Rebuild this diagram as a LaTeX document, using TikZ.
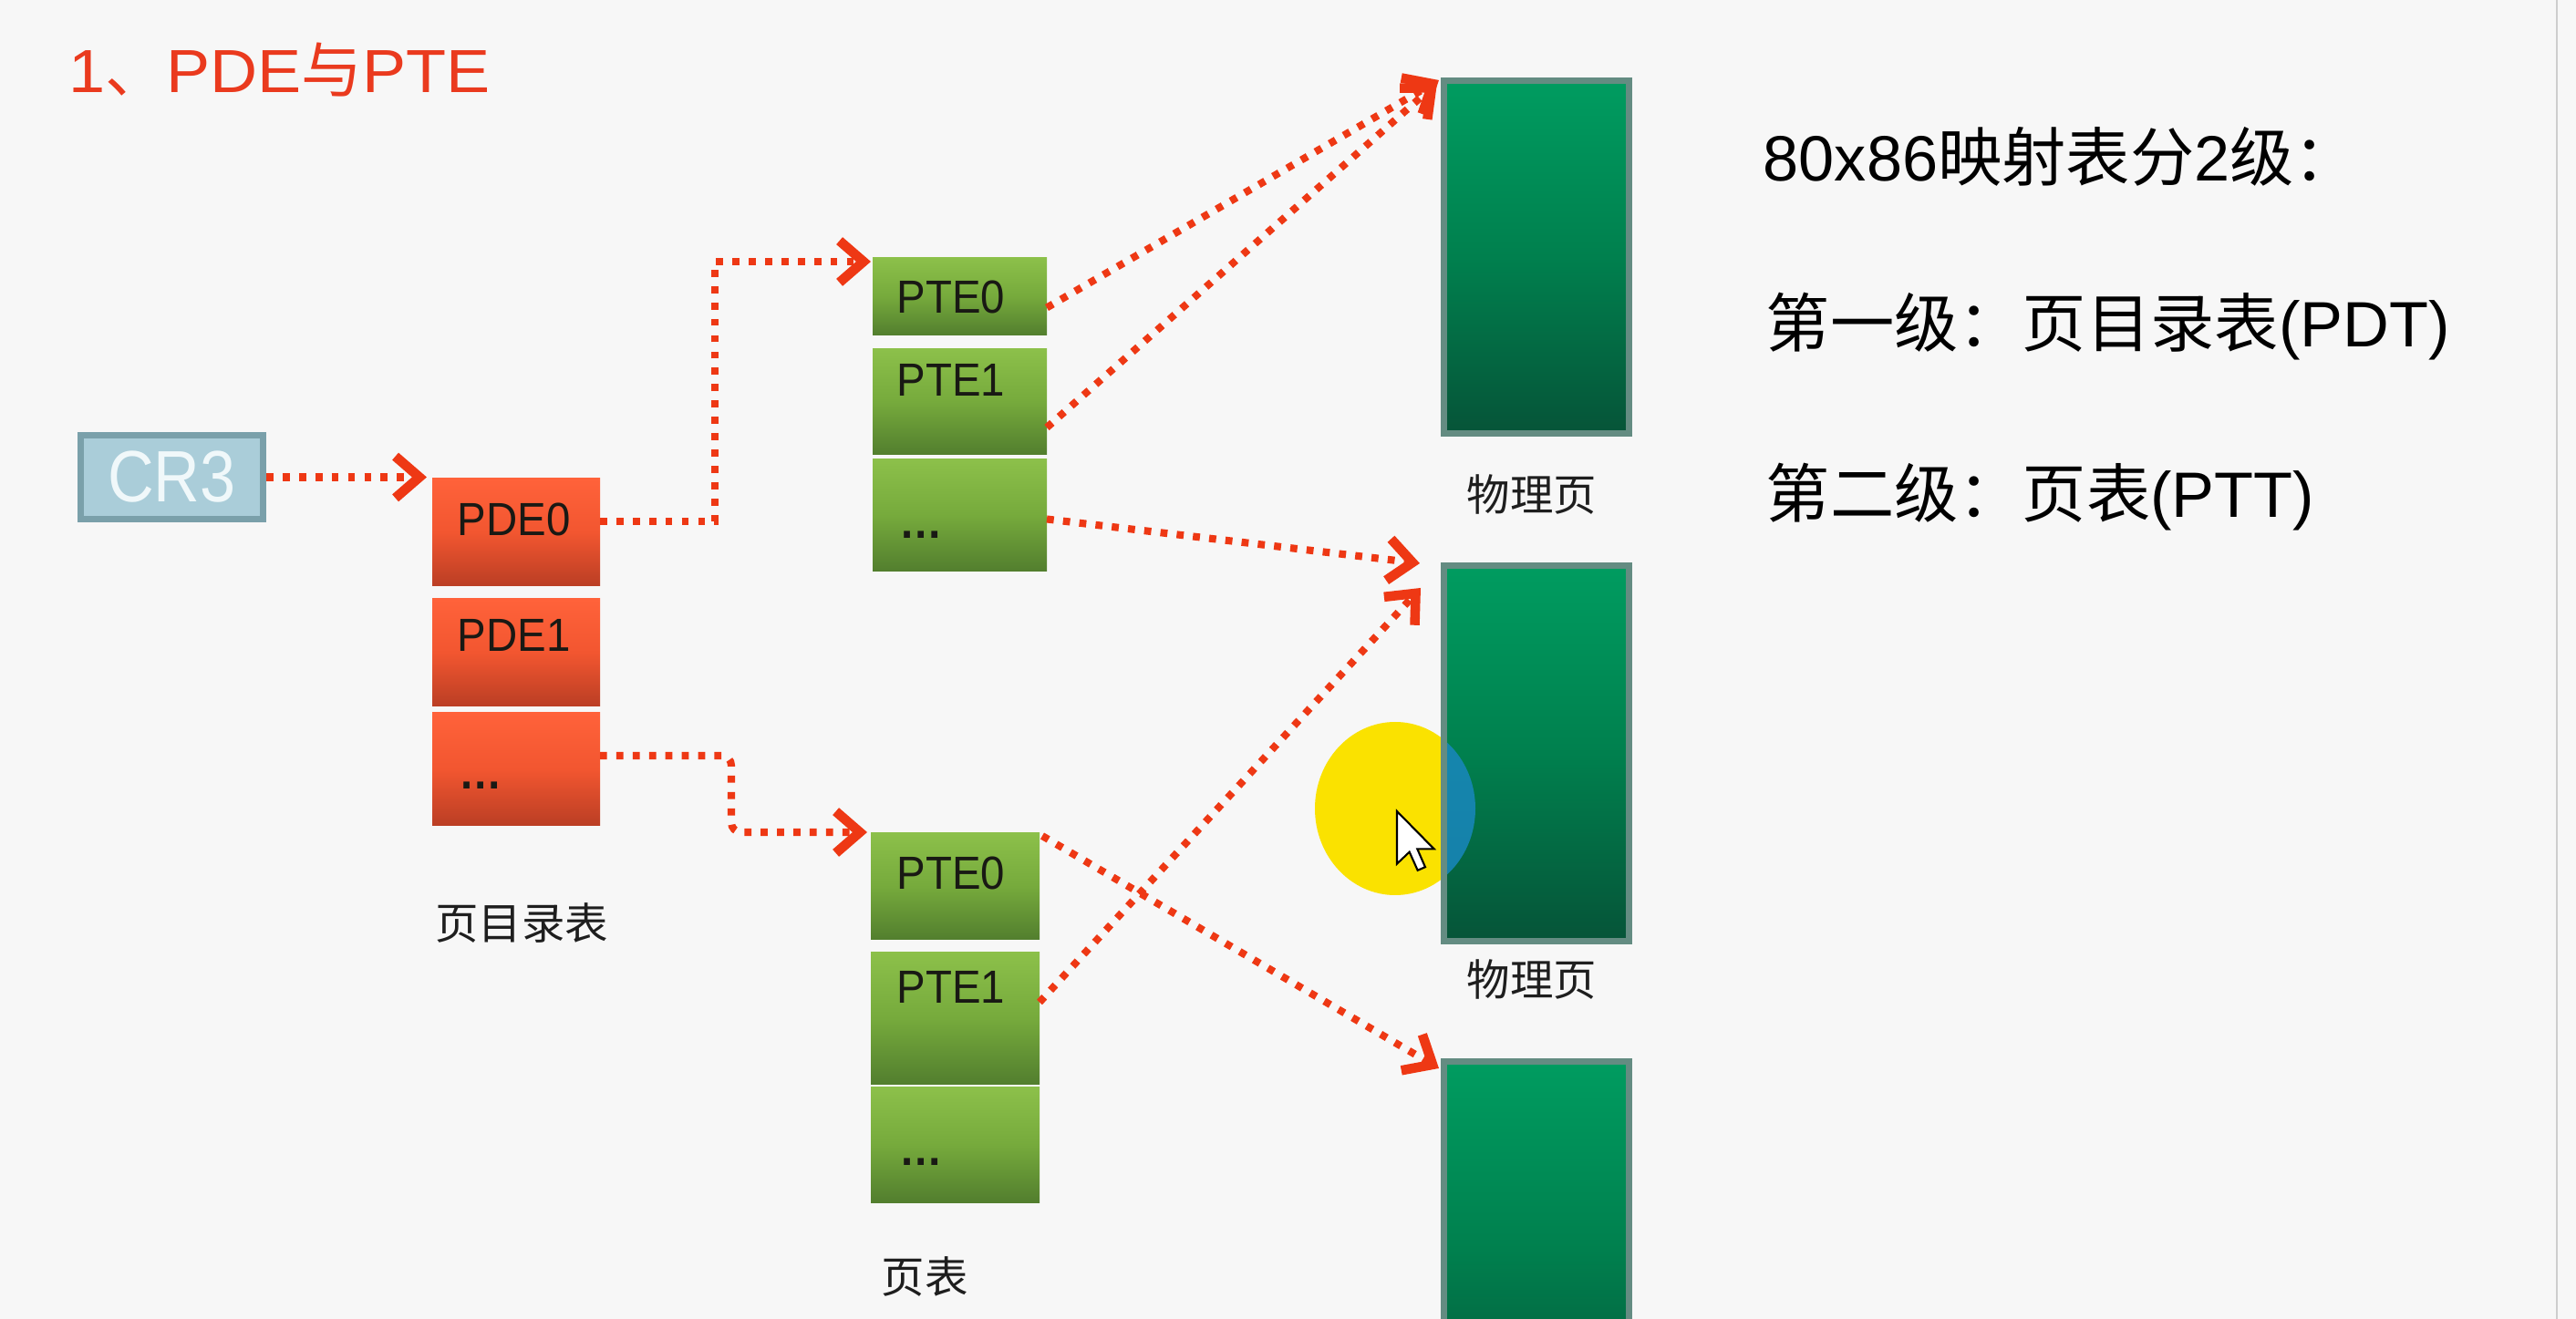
\documentclass[tikz,border=0pt]{standalone}
\usepackage{fontspec}
\setmainfont{Liberation Sans}
\newfontfamily\cjk{Noto Sans CJK SC}
\newfontfamily\cellfont[FakeStretch=0.93]{Liberation Sans}
\newfontfamily\crfont[FakeStretch=0.88]{Liberation Sans}
\newfontfamily\ttlfont[FakeStretch=1.08]{Liberation Sans}
\usetikzlibrary{arrows.meta,calc}
\definecolor{bgc}{RGB}{247,247,247}
\definecolor{titlered}{RGB}{234,58,30}
\definecolor{arrowred}{RGB}{238,56,20}
\definecolor{cr3fill}{RGB}{170,205,217}
\definecolor{cr3line}{RGB}{122,160,170}
\definecolor{cr3text}{RGB}{240,248,250}
\definecolor{pdetop}{RGB}{255,98,58}
\definecolor{pdemid}{RGB}{242,86,48}
\definecolor{pdebot}{RGB}{186,62,36}
\definecolor{ptetop}{RGB}{140,192,74}
\definecolor{ptemid}{RGB}{118,170,60}
\definecolor{ptebot}{RGB}{82,126,46}
\definecolor{pgtop}{RGB}{0,156,96}
\definecolor{pgmid}{RGB}{0,128,78}
\definecolor{pgbot}{RGB}{6,84,56}
\definecolor{pgline}{RGB}{100,140,130}
\definecolor{celltextc}{RGB}{25,25,20}
\definecolor{labeltext}{RGB}{30,30,30}
\definecolor{curyellow}{RGB}{250,226,0}
\definecolor{curblue}{RGB}{25,135,190}
\definecolor{edgegray}{RGB}{205,205,205}
\tikzset{
  pdecell/.style={anchor=north west, inner sep=0, outer sep=0, minimum width=1.84cm,
    top color=pdetop, bottom color=pdebot, middle color=pdemid},
  ptecell/.style={anchor=north west, inner sep=0, outer sep=0,
    top color=ptetop, bottom color=ptebot, middle color=ptemid},
  pagebox/.style={draw=pgline, line width=2pt, inner sep=0, minimum width=2.03cm,
    top color=pgtop, bottom color=pgbot, middle color=pgmid},
  celltxt/.style={anchor=base west, inner sep=0, text=celltextc,
    font=\cellfont\fontsize{14.5pt}{16pt}\selectfont},
  cjklabel/.style={inner sep=0, text=labeltext, font=\cjk\fontsize{13.5pt}{15pt}\selectfont},
  righttxt/.style={anchor=base west, inner sep=0, text=black,
    font=\fontsize{20pt}{24pt}\selectfont},
  cr3box/.style={draw=cr3line, fill=cr3fill, line width=2pt, minimum width=2.0cm,
    minimum height=0.92cm, inner sep=0, text=cr3text,
    font=\crfont\fontsize{22.7pt}{24pt}\selectfont},
  conn/.style={draw=arrowred, line width=2.3pt, dash pattern=on 2.2pt off 2.9pt,
    -{Straight Barb[length=7.5pt,width=13pt,line width=3pt]}}
}
\begin{document}
\begin{tikzpicture}
\fill[bgc] (0,0) rectangle (28.25,-14.47);
\useasboundingbox (0,0) rectangle (28.25,-14.47);
\clip (0,0) rectangle (28.25,-14.47);
\draw[edgegray, line width=0.5pt] (28.04,0) -- (28.04,-14.47);

% title
\node[anchor=base west, inner sep=0, text=titlered,
  font=\ttlfont\fontsize{19pt}{21pt}\selectfont] (title) at (0.75,-1.02)
  {1{\cjk 、}PDE{\cjk 与}PTE};

% CR3
\node[cr3box] (cr3) at (1.885,-5.235) {CR3};

% page directory
\node[pdecell, minimum height=1.18cm] (pde0) at (4.74,-5.25) {};
\node[pdecell, minimum height=1.18cm] (pde1) at (4.74,-6.57) {};
\node[pdecell, minimum height=1.24cm] (pdeX) at (4.74,-7.82) {};
\node[celltxt] (pde0t) at (5.01,-5.88) {PDE0};
\node[celltxt] (pde1t) at (5.01,-7.15) {PDE1};
\node[celltxt] (pdeXt) at (5.03,-8.66) {\bfseries …};
\node[cjklabel] (pdel) at (5.72,-10.13) {页目录表};

% upper page table
\node[ptecell, minimum width=1.91cm, minimum height=0.85cm] (pte0) at (9.57,-2.83) {};
\node[ptecell, minimum width=1.91cm, minimum height=1.16cm] (pte1) at (9.57,-3.83) {};
\node[ptecell, minimum width=1.91cm, minimum height=1.23cm] (pteX) at (9.57,-5.04) {};
\node[celltxt] (pte0t) at (9.83,-3.44) {PTE0};
\node[celltxt] (pte1t) at (9.83,-4.35) {PTE1};
\node[celltxt] (pteXt) at (9.86,-5.91) {\bfseries …};

% lower page table
\node[ptecell, minimum width=1.85cm, minimum height=1.17cm] (pte0b) at (9.55,-9.14) {};
\node[ptecell, minimum width=1.85cm, minimum height=1.45cm] (pte1b) at (9.55,-10.45) {};
\node[ptecell, minimum width=1.85cm, minimum height=1.26cm] (pteXb) at (9.55,-11.93) {};
\node[celltxt] (pte0bt) at (9.83,-9.76) {PTE0};
\node[celltxt] (pte1bt) at (9.83,-11.01) {PTE1};
\node[celltxt] (pteXbt) at (9.86,-12.78) {\bfseries …};
\node[cjklabel] (ptel) at (10.14,-14.01) {页表};

% cursor highlight (behind page 2)
\fill[curyellow] (15.30,-8.87) ellipse [x radius=0.88, y radius=0.95];

% physical pages
\node[pagebox, minimum height=3.87cm] (pg1) at (16.85,-2.82) {};
\node[pagebox, minimum height=4.12cm] (pg2) at (16.85,-8.265) {};
\node[pagebox, minimum height=4.12cm] (pg3) at (16.85,-13.705) {};
\node[cjklabel] (pg1l) at (16.80,-5.43) {物理页};
\node[cjklabel] (pg2l) at (16.80,-10.75) {物理页};

\begin{scope}
  \clip ($(pg2.north west)+(0.07,-0.07)$) rectangle ($(pg2.south east)+(-0.07,0.07)$);
  \fill[curblue, opacity=0.85] (15.30,-8.87) ellipse [x radius=0.88, y radius=0.95];
\end{scope}
\begin{scope}[shift={(15.32,-8.90)}, scale=0.036]
  \draw[fill=white, draw=black, line width=0.6pt, line join=miter]
    (0,0) -- (0,-16) -- (3.8,-12.4) -- (6.3,-18) -- (8.6,-17) -- (6.2,-11.5) -- (11.3,-11.5) -- cycle;
\end{scope}

% connectors
\draw[conn] (cr3.east) -- ($(cr3.east -| pde0.west)+(-0.06,0)$);
\draw[conn] ($(pde0.east)+(0,0.12)$) -- ++(1.26,0) |- ($(pte0.north west)+(-0.02,-0.04)$);
\draw[conn, rounded corners=3pt] ($(pdeX.east)+(0,0.15)$) -- ++(1.44,0) |- ($(pte0b.north west)+(-0.04,0.01)$);
\draw[conn] ($(pte0.east)+(0,-0.12)$) -- ($(pg1.north west)+(-0.02,-0.03)$);
\draw[conn] ($(pte1.east)+(0,-0.28)$) -- ($(pg1.north west)+(-0.04,-0.06)$);
\draw[conn] ($(pteX.east)+(0,-0.04)$) -- ($(pg2.north west)+(-0.23,-0.01)$);
\draw[conn] ($(pte1b.east)+(0,0.18)$) -- ($(pg2.north west)+(-0.22,-0.28)$);
\draw[conn] ($(pte0b.north east)+(0.03,-0.03)$) -- ($(pg3.north west)+(-0.02,-0.11)$);

% right-hand text
\node[righttxt] (r1) at (19.33,-1.99) {80x86{\cjk 映射表分}2{\cjk 级：}};
\node[righttxt] (r2) at (19.36,-3.81) {{\cjk 第一级：页目录表}(PDT)};
\node[righttxt] (r3) at (19.36,-5.68) {{\cjk 第二级：页表}(PTT)};
\end{tikzpicture}
\end{document}
